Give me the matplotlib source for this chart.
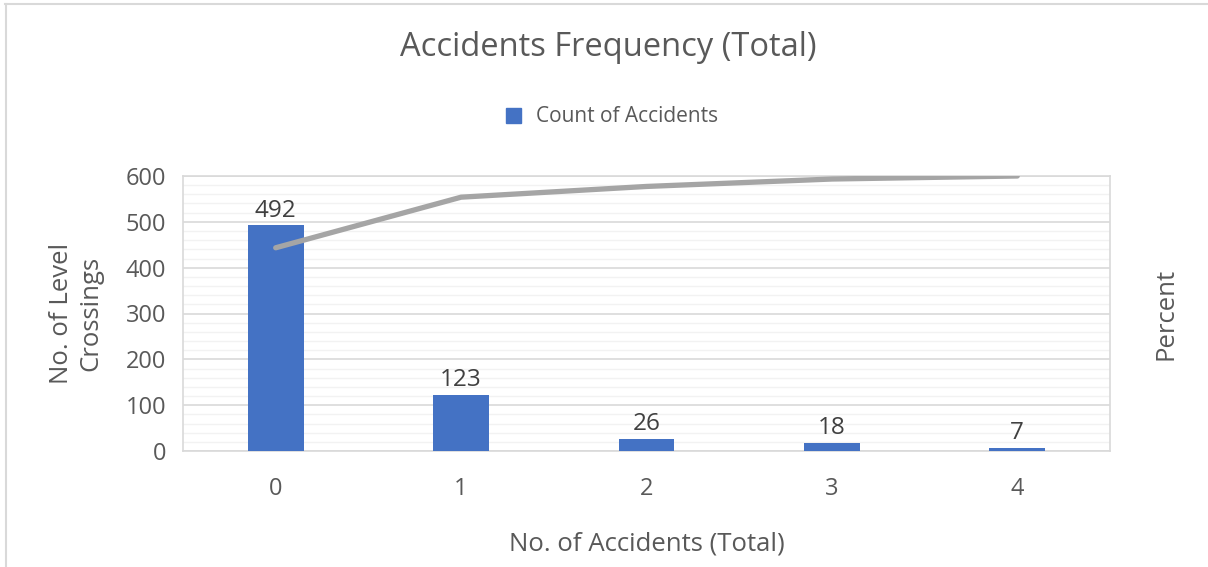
import matplotlib
matplotlib.use("Agg")
import matplotlib.pyplot as plt
from matplotlib.lines import Line2D
from matplotlib.patches import Rectangle

categories = ["0", "1", "2", "3", "4"]
counts = [492, 123, 26, 18, 7]
cum_percent = [73.9, 92.3, 96.2, 98.9, 100.0]

plt.rcParams['font.family'] = ['Open Sans', 'DejaVu Sans']

fig = plt.figure(figsize=(12.08, 5.67), dpi=100)
ax = fig.add_axes([183/1208, 1-451/567, (1110-183)/1208, (451-176)/567])

x = list(range(len(categories)))
bars = ax.bar(x, counts, width=0.3, color="#4472C4", zorder=3, label="Count of Accidents")
ax.set_xlim(-0.5, 4.5)
ax.set_ylim(0, 600)
ax.set_yticks(range(0, 601, 100))
ax.set_yticks(range(0, 601, 20), minor=True)
ax.set_xticks(x)
ax.set_xticklabels(categories)
ax.grid(axis='y', which='major', color="#D9D9D9", linewidth=1.2, zorder=0)
ax.grid(axis='y', which='minor', color="#F2F2F2", linewidth=1.0, zorder=0)
ax.tick_params(axis='both', which='both', length=0, labelsize=17, colors="#595959")
ax.tick_params(axis='x', pad=19)
ax.tick_params(axis='y', pad=12)
for s in ax.spines.values():
    s.set_color("#D9D9D9")
    s.set_linewidth(1.2)

for xi, c in zip(x, counts):
    ax.annotate(str(c), (xi, c), xytext=(0, 2), textcoords="offset points",
                ha="center", va="bottom", fontsize=17.5, color="#404040")

ax2 = ax.twinx()
ax2.plot(x, cum_percent, color="#A5A5A5", linewidth=3.8, solid_capstyle="round", zorder=4)
ax2.set_ylim(0, 100)
ax2.set_yticks([])
for s in ax2.spines.values():
    s.set_visible(False)

ax.set_xlabel("No. of Accidents (Total)", fontsize=18.5, color="#595959", labelpad=22)
ax.set_ylabel("No. of Level\nCrossings", fontsize=18.5, color="#595959", labelpad=16, linespacing=1.25)
ax2.set_ylabel("Percent", fontsize=18.5, color="#595959", labelpad=31)

fig.text(608/1208, 1-48/567, "Accidents Frequency (Total)", ha="center", va="center",
         fontsize=23.5, color="#595959")

fig.legend(handles=[Rectangle((0, 0), 1, 1, color="#4472C4")], labels=["Count of Accidents"],
           loc="center", bbox_to_anchor=(612/1208, 1-117/567), frameon=False,
           fontsize=15, labelcolor="#595959", handlelength=0.75, handleheight=0.75, handletextpad=0.7)

# outer frame lines
fig.add_artist(Line2D([5/1208, 1], [1-4/567, 1-4/567], color="#D9D9D9", linewidth=1.5, transform=fig.transFigure))
fig.add_artist(Line2D([6/1208, 6/1208], [0, 1-4/567], color="#D9D9D9", linewidth=1.5, transform=fig.transFigure))

fig.savefig("out.png", dpi=100)
